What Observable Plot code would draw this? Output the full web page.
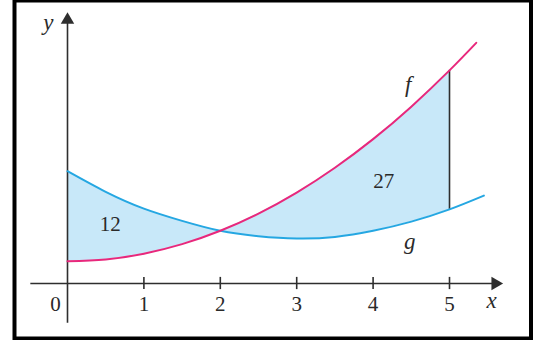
<!DOCTYPE html>
<html><head><meta charset="utf-8">
<script src="https://cdn.jsdelivr.net/npm/d3@7"></script>
<script src="https://cdn.jsdelivr.net/npm/@observablehq/plot@0.6"></script>
<style>
html,body{margin:0;padding:0;background:#fff}
</style>
</head><body><div id="chart"></div>
<script>
// curve f (pink)
const fX = [0, 0.5, 1, 1.5, 2, 2.5, 3, 3.5, 4, 4.5, 5, 5.35];
const fY = [0.29, 0.315, 0.39, 0.515, 0.69, 0.915, 1.19, 1.515, 1.89, 2.315, 2.79, 3.15];
// curve g (blue)
const gX = [0, 0.5, 1, 1.5, 2, 2.5, 3, 3.5, 4, 4.5, 5, 5.45];
const gY = [1.47, 1.20, 0.98, 0.82, 0.69, 0.62, 0.59, 0.61, 0.69, 0.81, 0.97, 1.15];
// shaded interval
const aStart = 0, aEnd = 5;
// tick labels
const tickVals = [1, 2, 3, 4, 5];
const tickLabels = ["1", "2", "3", "4", "5"];
// region labels
const regionLabels = [
  {x: 0.56, y: 0.77, text: "12"},
  {x: 4.14, y: 1.335, text: "27"}
];
const curveLabels = [
  {x: 4.46, y: 2.60, text: "f"},
  {x: 4.48, y: 0.55, text: "g"}
];
const axisLabels = [
  {x: 5.55, y: -0.22, text: "x"},
  {x: -0.25, y: 3.42, text: "y"}
];
const axisExtent = {xMin: -0.48, xMax: 5.6, yMin: -0.52, yMax: 3.45};

const fData = fX.map((x, i) => ({x, y: fY[i]}));
const gData = gX.map((x, i) => ({x, y: gY[i]}));
const areaData = fX.map((x, i) => ({x, f: fY[i], g: gY[i]})).filter(d => d.x >= aStart && d.x <= aEnd);
const endRow = areaData[areaData.length - 1];

const fam = "Liberation Serif";
const axisColor = "#2e2e2e";
const textColor = "#2a2a2a";

const chart = Plot.plot({
  width: 536,
  height: 340,
  margin: 0,
  x: {domain: [0, 5], range: [67, 449], axis: null},
  y: {domain: [0, 1], range: [283, 206.6], axis: null},
  marks: [
    Plot.areaY(areaData, {x: "x", y1: "g", y2: "f", fill: "#c8e8f9", curve: "natural"}),
    // axes
    Plot.ruleY([0], {x1: axisExtent.xMin, x2: axisExtent.xMax, stroke: axisColor, strokeWidth: 1.6}),
    Plot.ruleX([0], {y1: axisExtent.yMin, y2: axisExtent.yMax, stroke: axisColor, strokeWidth: 1.6}),
    Plot.ruleX(tickVals, {y1: -0.08, y2: 0.08, stroke: axisColor, strokeWidth: 1.6}),
    Plot.dot([{x: axisExtent.xMax, y: 0}], {x: "x", y: "y", symbol: "triangle", r: 5, fill: axisColor, stroke: "none", rotate: 90}),
    Plot.dot([{x: 0, y: axisExtent.yMax}], {x: "x", y: "y", symbol: "triangle", r: 5, fill: axisColor, stroke: "none"}),
    // right boundary
    Plot.ruleX([endRow], {x: "x", y1: "g", y2: "f", stroke: axisColor, strokeWidth: 1.6}),
    // curves
    Plot.line(gData, {x: "x", y: "y", stroke: "#25a7e2", strokeWidth: 2, curve: "natural"}),
    Plot.line(fData, {x: "x", y: "y", stroke: "#e8287c", strokeWidth: 2, curve: "natural"}),
    // labels
    Plot.text(tickVals, {x: d => d, y: 0, text: (d, i) => tickLabels[i], dy: 21, fontSize: 21, fontFamily: fam, fill: textColor}),
    Plot.text(["0"], {x: 0, y: 0, text: d => d, dy: 21, dx: -12, fontSize: 21, fontFamily: fam, fill: textColor}),
    Plot.text(regionLabels, {x: "x", y: "y", text: "text", fontSize: 21, fontFamily: fam, fill: textColor}),
    Plot.text(curveLabels, {x: "x", y: "y", text: "text", fontSize: 23, fontStyle: "italic", fontFamily: fam, fill: textColor}),
    Plot.text(axisLabels, {x: "x", y: "y", text: "text", fontSize: 23, fontStyle: "italic", fontFamily: fam, fill: textColor}),
    Plot.frame({stroke: "#000", strokeWidth: 4, insetLeft: 14, insetRight: 5.5, insetTop: 0, insetBottom: 2})
  ]
});
document.getElementById("chart").appendChild(chart);
</script>
</body></html>
